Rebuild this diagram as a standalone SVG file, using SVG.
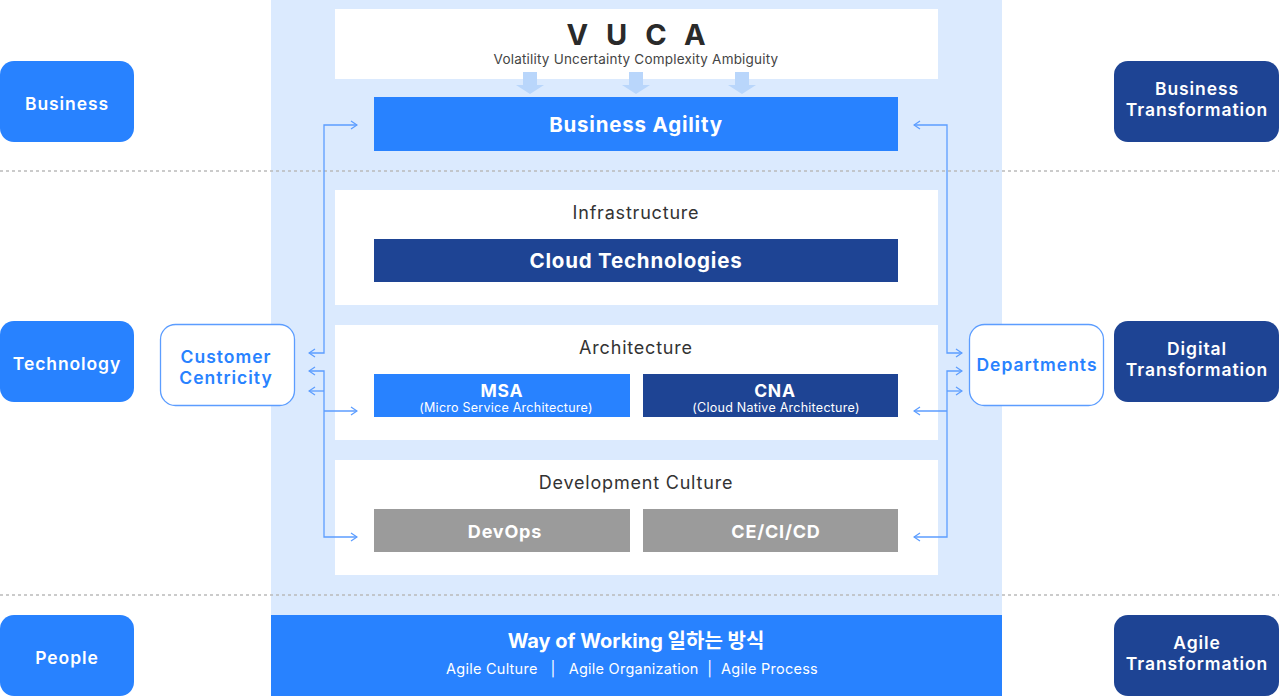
<svg xmlns="http://www.w3.org/2000/svg" width="1279" height="696" viewBox="0 0 1279 696">
<style>
text{font-family:Inter,"Noto Sans","Noto Sans CJK KR",sans-serif;text-anchor:middle;dominant-baseline:central}
.side{fill:#2882ff}
.navy{fill:#1e4494}
.wt{fill:#fff;font-weight:600;font-size:17.5px;letter-spacing:0.9px}
.box{fill:#fff}
.lbl{fill:#333;font-size:18px;letter-spacing:0.8px}
.bt{fill:#fff;font-weight:700;letter-spacing:0.8px}
.sub{fill:#fff;font-size:12.5px;letter-spacing:0.25px}
.outline{fill:#fff;stroke:#5c9dff;stroke-width:1.3}
.bl{fill:#2882ff;font-weight:600;font-size:17.5px;letter-spacing:1px}
.conn{fill:none;stroke:#5c9dff;stroke-width:1.3}
.dash{stroke:#bbb;stroke-width:1.3;stroke-dasharray:3 3}
.va{fill:#b9d6fb}
</style>
<defs>
<marker id="ah" viewBox="0 0 8 10" refX="7" refY="5" markerWidth="8" markerHeight="10" markerUnits="userSpaceOnUse" orient="auto-start-reverse">
<path d="M1,1 L7,5 L1,9" fill="none" stroke="#5c9dff" stroke-width="1.3"/>
</marker>
</defs>
<rect width="1279" height="696" fill="#fff"/>
<rect id="panel" x="271" y="0" width="731" height="615" fill="#dbeafe"/>
<g id="dividers">
<line class="dash" x1="0" y1="171" x2="1279" y2="171"/>
<line class="dash" x1="0" y1="595" x2="1279" y2="595"/>
</g>
<g id="vuca">
<rect class="box" x="335" y="9" width="603" height="70"/>
<text x="637" y="45" dx="8" style="font-size:29px;font-weight:700;fill:#2a2a2a;letter-spacing:18px;dominant-baseline:alphabetic">VUCA</text>
<text x="636" y="59" style="font-size:13.5px;fill:#444;letter-spacing:0.2px">Volatility Uncertainty Complexity Ambiguity</text>
</g>
<g id="vuca-arrows">
<path class="va" d="M523,72 H537 V85 H544 L530,94 L516,85 H523 Z"/>
<path class="va" d="M629,72 H643 V85 H650 L636,94 L622,85 H629 Z"/>
<path class="va" d="M735,72 H749 V85 H756 L742,94 L728,85 H735 Z"/>
</g>
<g id="business-agility">
<rect class="side" x="374" y="97" width="524" height="54"/>
<text class="bt" x="636" y="124" style="font-size:20.5px">Business Agility</text>
</g>
<g id="infrastructure">
<rect class="box" x="335" y="190" width="603" height="115"/>
<text class="lbl" x="636" y="212">Infrastructure</text>
<rect class="navy" x="374" y="239" width="524" height="43"/>
<text class="bt" x="636" y="260" style="font-size:20.5px">Cloud Technologies</text>
</g>
<g id="architecture">
<rect class="box" x="335" y="325" width="603" height="115"/>
<text class="lbl" x="636" y="347">Architecture</text>
<rect class="side" x="374" y="374" width="256" height="43"/>
<text class="bt" x="502" y="390" style="font-size:17.5px">MSA</text>
<text class="sub" x="506" y="407">(Micro Service Architecture)</text>
<rect class="navy" x="643" y="374" width="255" height="43"/>
<text class="bt" x="775" y="390" style="font-size:17.5px">CNA</text>
<text class="sub" x="776" y="407">(Cloud Native Architecture)</text>
</g>
<g id="development-culture">
<rect class="box" x="335" y="460" width="603" height="115"/>
<text class="lbl" x="636" y="482">Development Culture</text>
<rect x="374" y="509" width="256" height="43" fill="#9b9b9b"/>
<text class="bt" x="505" y="531" style="font-size:18px">DevOps</text>
<rect x="643" y="509" width="255" height="43" fill="#9b9b9b"/>
<text class="bt" x="776" y="531" style="font-size:18px">CE/CI/CD</text>
</g>
<g id="way-of-working">
<rect class="side" x="271" y="615" width="731" height="81"/>
<text class="bt" x="636" y="641" style="font-size:20px;letter-spacing:0px">Way of Working 일하는 방식</text>
<text x="632" y="668" style="font-size:14.5px;fill:#fff;letter-spacing:0.25px" xml:space="preserve">Agile Culture   |   Agile Organization  |  Agile Process</text>
</g>
<g id="business">
<rect class="side" x="0" y="61" width="134" height="81" rx="14"/>
<text class="wt" x="67" y="103">Business</text>
</g>
<g id="technology">
<rect class="side" x="0" y="321" width="134" height="81" rx="14"/>
<text class="wt" x="67" y="363">Technology</text>
</g>
<g id="people">
<rect class="side" x="0" y="615" width="134" height="81" rx="14"/>
<text class="wt" x="67" y="657">People</text>
</g>
<g id="business-transformation">
<rect class="navy" x="1114" y="61" width="165" height="81" rx="14"/>
<text class="wt" x="1197" y="88">Business</text>
<text class="wt" x="1197" y="109">Transformation</text>
</g>
<g id="digital-transformation">
<rect class="navy" x="1114" y="321" width="165" height="81" rx="14"/>
<text class="wt" x="1197" y="348">Digital</text>
<text class="wt" x="1197" y="369">Transformation</text>
</g>
<g id="agile-transformation">
<rect class="navy" x="1114" y="615" width="165" height="81" rx="14"/>
<text class="wt" x="1197" y="642">Agile</text>
<text class="wt" x="1197" y="663">Transformation</text>
</g>
<g id="customer-centricity">
<rect class="outline" x="160.5" y="324.5" width="134" height="81" rx="15"/>
<text class="bl" x="226" y="356">Customer</text>
<text class="bl" x="226" y="377">Centricity</text>
</g>
<g id="departments">
<rect class="outline" x="969.5" y="324.5" width="134" height="81" rx="15"/>
<text class="bl" x="1037" y="364">Departments</text>
</g>
<g id="connectors">
<path class="conn" d="M357,125 H324 V353 H309" marker-start="url(#ah)" marker-end="url(#ah)"/>
<path class="conn" d="M309,371 H324 V537 H357" marker-start="url(#ah)" marker-end="url(#ah)"/>
<path class="conn" d="M324,391 H309" marker-end="url(#ah)"/>
<path class="conn" d="M324,411 H357" marker-end="url(#ah)"/>
<path class="conn" d="M914,125 H947 V353 H962" marker-start="url(#ah)" marker-end="url(#ah)"/>
<path class="conn" d="M962,371 H947 V537 H914" marker-start="url(#ah)" marker-end="url(#ah)"/>
<path class="conn" d="M947,391 H962" marker-end="url(#ah)"/>
<path class="conn" d="M947,411 H914" marker-end="url(#ah)"/>
</g>
</svg>
